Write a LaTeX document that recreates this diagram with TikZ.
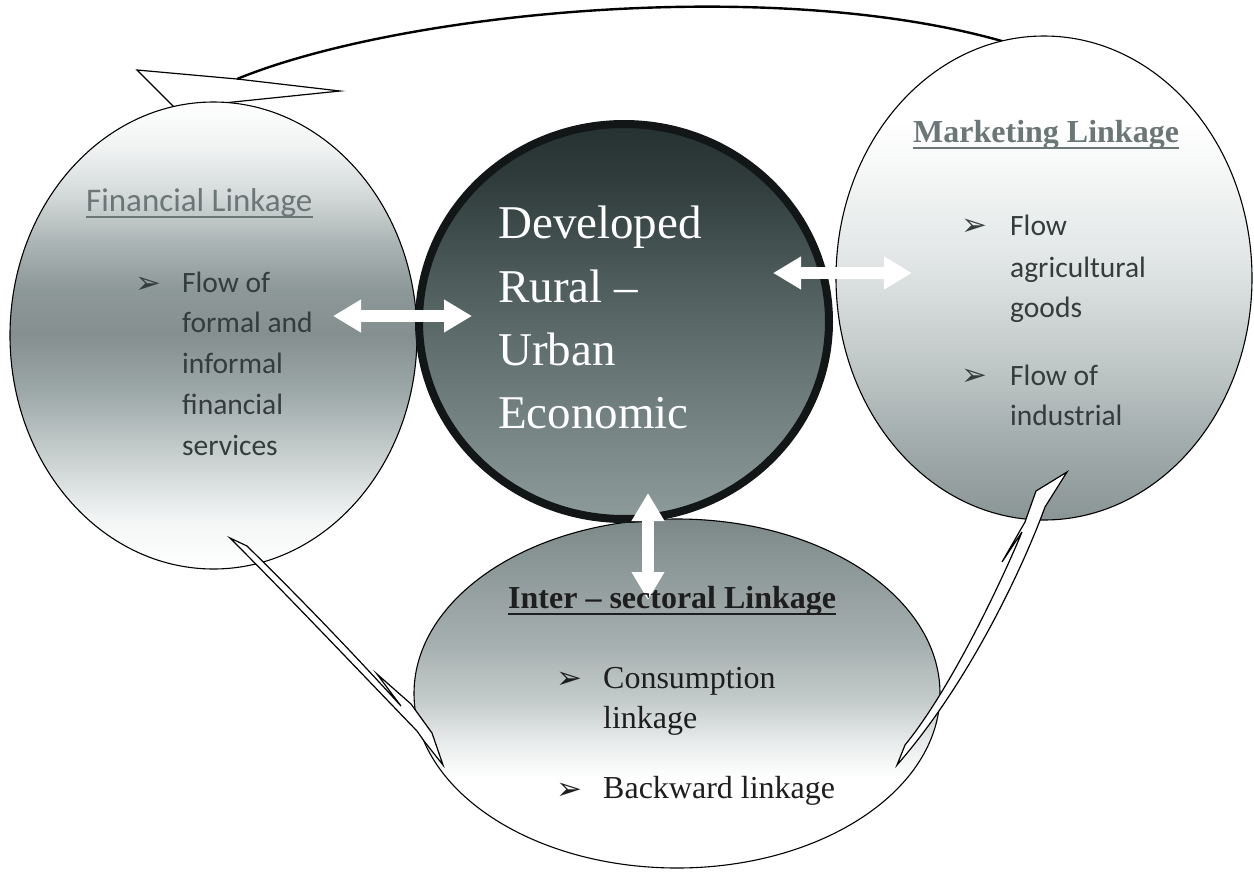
\documentclass[tikz,border=0pt]{standalone}
\usepackage{fontspec}
\setmainfont{Liberation Serif}
\newfontfamily\calfont{Carlito}
\newfontfamily\symfont{DejaVu Sans}
\usetikzlibrary{shapes.geometric,arrows.meta}

\definecolor{headgray}{HTML}{6B7676}
\definecolor{bodygray}{HTML}{343C3C}
\definecolor{darktext}{HTML}{1E1E1E}
\definecolor{ringblack}{HTML}{121616}

% vertical shadings: 25bp = bottom of the shape, 75bp = top of the shape
\pgfdeclareverticalshading{finshade}{100bp}{%
  color(0bp)=(white); color(25bp)=(white); color(30bp)=(rgb,255:red,244;green,246;blue,246);
  color(37bp)=(rgb,255:red,201;green,208;blue,208); color(44bp)=(rgb,255:red,157;green,168;blue,168);
  color(50bp)=(rgb,255:red,133;green,143;blue,143); color(55bp)=(rgb,255:red,141;green,152;blue,152);
  color(60bp)=(rgb,255:red,172;green,181;blue,181); color(65bp)=(rgb,255:red,211;green,217;blue,217);
  color(70bp)=(rgb,255:red,240;green,242;blue,242); color(75bp)=(white); color(100bp)=(white)}
\pgfdeclareverticalshading{coreshade}{100bp}{%
  color(0bp)=(rgb,255:red,142;green,155;blue,155); color(25bp)=(rgb,255:red,142;green,155;blue,155);
  color(40bp)=(rgb,255:red,111;green,125;blue,125); color(55bp)=(rgb,255:red,78;green,92;blue,92);
  color(68bp)=(rgb,255:red,48;green,60;blue,60); color(75bp)=(rgb,255:red,38;green,50;blue,50);
  color(100bp)=(rgb,255:red,38;green,50;blue,50)}
\pgfdeclareverticalshading{mktshade}{100bp}{%
  color(0bp)=(rgb,255:red,138;green,149;blue,149); color(25bp)=(rgb,255:red,138;green,149;blue,149);
  color(32bp)=(rgb,255:red,159;green,169;blue,169); color(42bp)=(rgb,255:red,195;green,202;blue,202);
  color(52bp)=(rgb,255:red,226;green,230;blue,230); color(62bp)=(rgb,255:red,247;green,248;blue,248);
  color(66bp)=(white); color(75bp)=(white); color(100bp)=(white)}
\pgfdeclareverticalshading{intshade}{100bp}{%
  color(0bp)=(white); color(25bp)=(white); color(38bp)=(white);
  color(43bp)=(rgb,255:red,232;green,235;blue,235); color(49bp)=(rgb,255:red,196;green,203;blue,203);
  color(57bp)=(rgb,255:red,167;green,176;blue,176); color(68bp)=(rgb,255:red,141;green,152;blue,152);
  color(75bp)=(rgb,255:red,124;green,136;blue,136); color(100bp)=(rgb,255:red,124;green,136;blue,136)}

\begin{document}
\begin{tikzpicture}[x=1pt,y=-1pt,
  bubble/.style={ellipse, draw=black, line width=1.1pt, inner sep=0pt, shade},
  hollowarrow/.style={draw=black, fill=white, line width=1.2pt, line join=miter},
  flowarrow/.style={draw=white, line width=12pt,
    {Triangle[length=28pt,width=31pt]}-{Triangle[length=28pt,width=31pt]}},
  txt/.style={anchor=base west, inner sep=0pt},
  calhead/.style={txt, font=\calfont\fontsize{33}{40}\selectfont, text=headgray},
  calbody/.style={txt, font=\calfont\fontsize{29.5}{36}\selectfont, text=bodygray},
  serhead/.style={txt, font=\bfseries\fontsize{32}{38}\selectfont},
  serbody/.style={txt, font=\fontsize{32}{38}\selectfont, text=darktext},
  coretext/.style={txt, font=\fontsize{47}{54}\selectfont, text=white},
  bullet/.style={txt, font=\symfont\fontsize{31}{34}\selectfont},
  uline/.style={line width=2pt}]
\useasboundingbox (0,0) rectangle (1254,876);

% long return arrow over the top (partly hidden by the bubbles)
\draw[hollowarrow] (137,70) -- (237,79) -- (340,91) -- (175,108) -- cycle;
\draw[line width=2.4pt] (237,79) .. controls (400,12) and (780,-26) .. (1012,44);

% the three linkage bubbles
\node[bubble, shading=finshade, minimum width=407pt, minimum height=467pt] (fin) at (213.5,335.5) {};
\node[bubble, shading=mktshade, minimum width=416pt, minimum height=484pt] (mkt) at (1044,278) {};
\node[bubble, shading=intshade, minimum width=526pt, minimum height=349pt] (int) at (677,693.5) {};

% central circle
\node[ellipse, draw=ringblack, line width=8pt, inner sep=0pt, shade, shading=coreshade,
      minimum width=410pt, minimum height=395pt] (core) at (624,321.5) {};

% hollow curved arrows between the outer bubbles
\draw[hollowarrow] (230,538) -- (247,546) .. controls (300,598) and (352,652) .. (401,706)
  -- (377,674) -- (411,704) -- (432,733) -- (443,765) -- (424,741) -- (417,731)
  .. controls (360,672) and (290,598) .. (230,538) -- cycle;
\draw[hollowarrow] (897,765) -- (905,745) .. controls (950,690) and (1000,585) .. (1022,532)
  -- (1002,562) -- (1025,522) -- (1036,491) -- (1067,472) -- (1045,507)
  .. controls (1022,570) and (968,684) .. (897,765) -- cycle;

% white two-way flows into the centre
\coordinate (finR) at (333,316);
\coordinate (coreL) at (472,316);
\coordinate (coreR) at (773,273);
\coordinate (mktL) at (912,273);
\coordinate (coreB) at (648,493);
\coordinate (intT) at (648,600);
\draw[flowarrow] (finR) -- (coreL);
\draw[flowarrow] (coreR) -- (mktL);
\draw[flowarrow] (coreB) -- (intT);

% financial linkage
\node[calhead] (hfin) at (86,211) {Financial Linkage};
\draw[uline, headgray] ([yshift=-5.5pt]hfin.base west) -- ([yshift=-5.5pt]hfin.base east);
\node[bullet, text=bodygray] (bf1) at (135,293) {➢};
\node[calbody] (f1) at (182,292) {Flow of};
\node[calbody] (f2) at (182,332) {formal and};
\node[calbody] (f3) at (182,373) {informal};
\node[calbody] (f4) at (182,414) {financial};
\node[calbody] (f5) at (182,455) {services};

% centre
\node[coretext] (c1) at (498,238) {Developed};
\node[coretext] (c2) at (498,302) {Rural –};
\node[coretext] (c3) at (498,365) {Urban};
\node[coretext] (c4) at (498,428) {Economic};

% marketing linkage
\node[serhead, text=headgray] (hmkt) at (913,142) {Marketing Linkage};
\draw[uline, headgray] ([yshift=-6pt]hmkt.base west) -- ([yshift=-6pt]hmkt.base east);
\node[bullet, text=bodygray] (bm1) at (961,235) {➢};
\node[calbody] (m1) at (1010,235) {Flow};
\node[calbody] (m2) at (1010,277) {agricultural};
\node[calbody] (m3) at (1010,317) {goods};
\node[bullet, text=bodygray] (bm2) at (961,385) {➢};
\node[calbody] (m4) at (1010,385) {Flow of};
\node[calbody] (m5) at (1010,425) {industrial};

% inter-sectoral linkage
\node[serhead, text=darktext] (hint) at (508,608) {Inter – sectoral Linkage};
\draw[uline, darktext, line width=2.4pt] ([yshift=-6pt]hint.base west) -- ([yshift=-6pt]hint.base east);
\node[bullet, text=darktext] (bi1) at (556,688) {➢};
\node[serbody] (i1) at (603,688) {Consumption};
\node[serbody] (i2) at (603,728) {linkage};
\node[bullet, text=darktext] (bi2) at (556,799) {➢};
\node[serbody] (i3) at (603,798) {Backward linkage};
\end{tikzpicture}
\end{document}
